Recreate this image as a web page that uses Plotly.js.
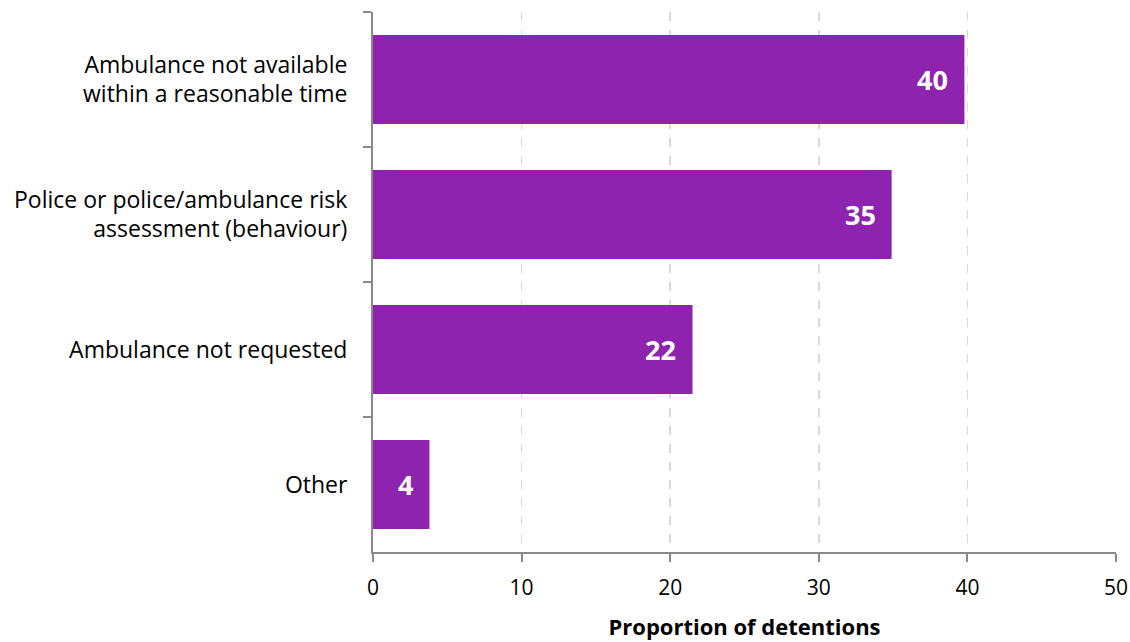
<!DOCTYPE html>
<html><head><meta charset="utf-8">
<script src="https://cdn.plot.ly/plotly-3.0.1.min.js"></script>
<style>html,body{margin:0;padding:0;background:#fff}#chart{width:1130px;height:642px}</style>
</head><body><div id="chart"></div>
<script>
const categories = ["Ambulance not available<br>within a reasonable time", "Police or police/ambulance risk<br>assessment (behaviour)", "Ambulance not requested", "Other"];
const values = [39.8, 34.9, 21.5, 3.8];
const valueLabels = ["40", "35", "22", "4"];
const xTickValues = [0, 10, 20, 30, 40, 50];
const xTitle = "Proportion of detentions";

const font = "'Open Sans', sans-serif";
const annotations = values.map((v, i) => ({
  x: v, y: categories[i], xref: "x", yref: "y",
  text: "<b>" + valueLabels[i] + "</b>", showarrow: false,
  xanchor: "right", yanchor: "middle", xshift: -14,
  font: {family: font, size: 27, color: "#ffffff"}
}));
Plotly.newPlot("chart", [{
  type: "bar", orientation: "h",
  x: values, y: categories,
  marker: {color: "#8E23B0"},
  width: 0.66, hoverinfo: "none"
}], {
  width: 1130, height: 642,
  margin: {l: 373, r: 14, t: 12, b: 90},
  paper_bgcolor: "#fff", plot_bgcolor: "#fff",
  font: {family: font, size: 23, color: "#000"},
  showlegend: false,
  annotations: annotations,
  xaxis: {
    range: [0, 50], tickvals: xTickValues, showgrid: true, gridcolor: "#D9D9D9", griddash: "dash", gridwidth: 1.5,
    zeroline: false, showline: true, linecolor: "#898989", linewidth: 2,
    ticks: "outside", ticklen: 8, tickwidth: 2, tickcolor: "#898989",
    tickfont: {size: 21}, fixedrange: true, ticklabelstandoff: 8,
    title: {text: "<b>" + xTitle + "</b>", font: {size: 22}, standoff: 19}
  },
  yaxis: {
    autorange: "reversed", showline: true, linecolor: "#898989", linewidth: 2,
    ticks: "outside", tickson: "boundaries", ticklen: 8, tickwidth: 2, tickcolor: "#898989",
    tickfont: {size: 23}, showgrid: false, ticklabelstandoff: 19
  }
}, {staticPlot: true});
</script></body></html>
